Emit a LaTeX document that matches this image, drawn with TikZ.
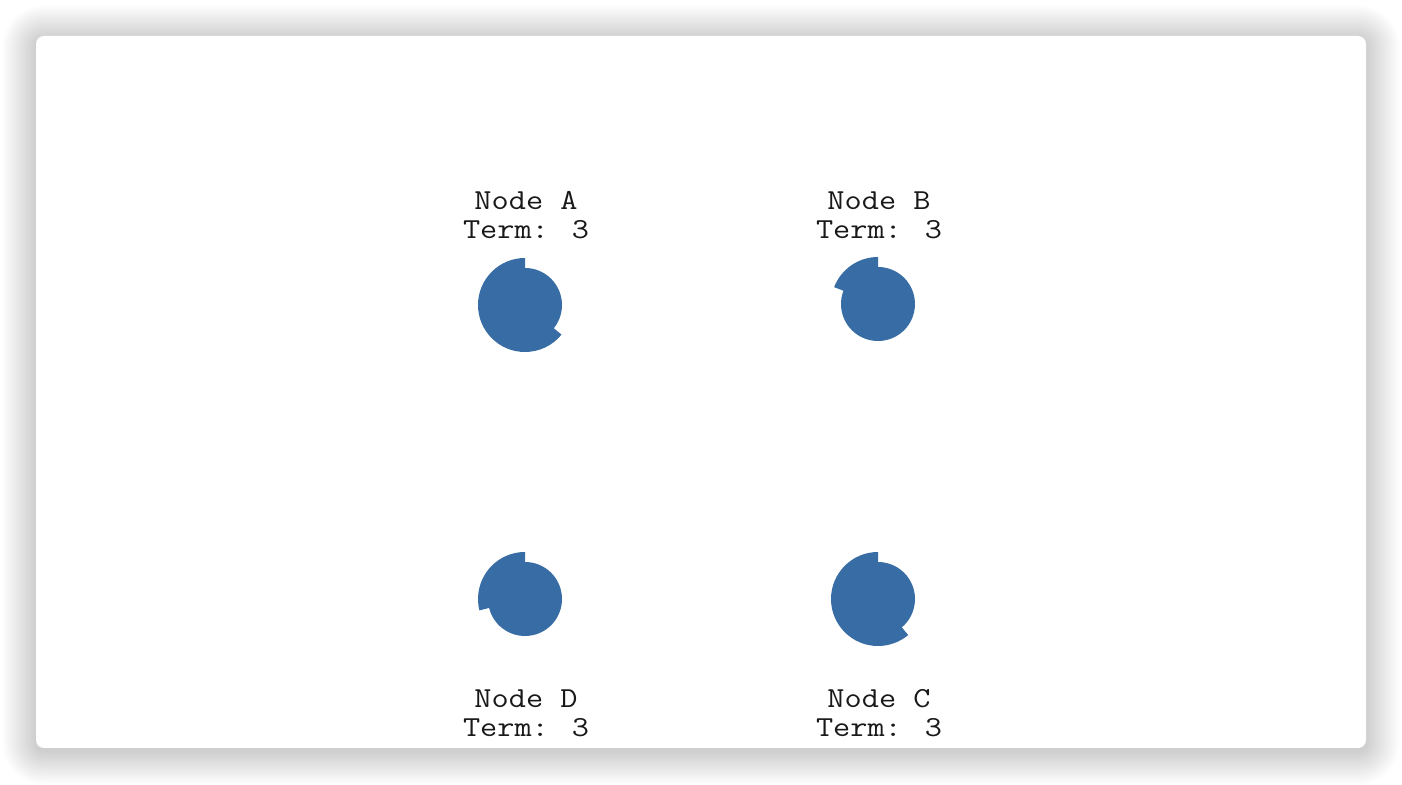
\documentclass[tikz,border=0pt]{standalone}
\usepackage{fontspec}
\definecolor{pieblue}{RGB}{56,108,164}
\tikzset{
  piefill/.style={fill=pieblue, draw=none},
  lbl/.style={font=\fontsize{29}{29}\selectfont\ttfamily, anchor=base, inner sep=0pt, text=black!90, xscale=1.15, transform shape},
}
\begin{document}
\begin{tikzpicture}[x=1pt,y=1pt]
\useasboundingbox (0,0) rectangle (1402,784);
\fill[white] (0,0) rectangle (1402,784);
% shadow
\foreach \i in {1,...,24}{
  \fill[black, opacity=0.008, rounded corners={8+1.4*\i}]
    (36-1.4*\i, 33-1.4*\i) rectangle (1366+1.4*\i, 745+1.4*\i);
}
% card
\fill[white, rounded corners=8] (36,36) rectangle (1366,748);

% centres
\coordinate (cA) at (525,479);
\coordinate (cB) at (878,480);
\coordinate (cC) at (878,185);
\coordinate (cD) at (525,185);

% Node A
\fill[piefill, shift={(cA)}] (90:47) arc[start angle=90, end angle=321, radius=47]
  -- (321:37) arc[start angle=321, end angle=450, radius=37] -- cycle;
% Node B
\fill[piefill, shift={(cB)}] (90:47) arc[start angle=90, end angle=159, radius=47]
  -- (159:37) arc[start angle=159, end angle=450, radius=37] -- cycle;
% Node D
\fill[piefill, shift={(cD)}] (90:47) arc[start angle=90, end angle=194, radius=47]
  -- (194:37) arc[start angle=194, end angle=450, radius=37] -- cycle;
% Node C
\fill[piefill, shift={(cC)}] (90:47) arc[start angle=90, end angle=310, radius=47]
  -- (310:37) arc[start angle=310, end angle=450, radius=37] -- cycle;

% labels
\node[lbl] (nA) at (526,574) {Node A};
\node[lbl] (tA) at (526,545) {Term: 3};
\node[lbl] (nB) at (879,574) {Node B};
\node[lbl] (tB) at (879,545) {Term: 3};
\node[lbl] (nD) at (526,76) {Node D};
\node[lbl] (tD) at (526,47) {Term: 3};
\node[lbl] (nC) at (879,76) {Node C};
\node[lbl] (tC) at (879,47) {Term: 3};
\end{tikzpicture}
\end{document}
